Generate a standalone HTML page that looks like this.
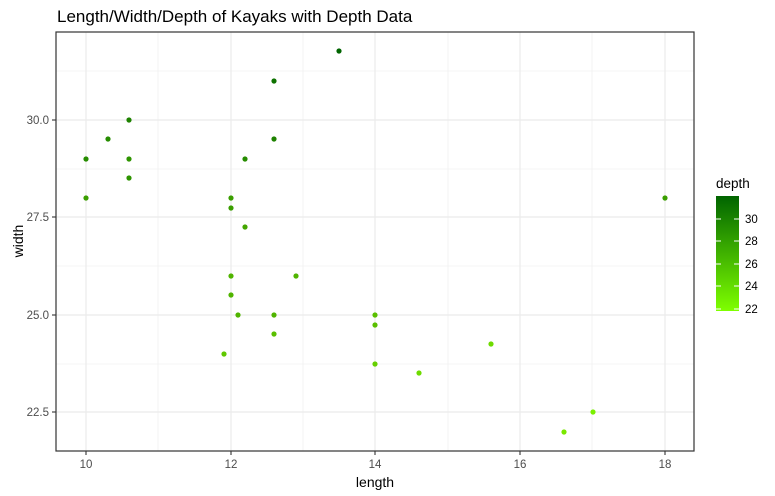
<!DOCTYPE html>
<html><head><style>body{margin:0;background:#fff}svg{display:block;font-family:"Liberation Sans",sans-serif}</style></head>
<body>
<svg width="775" height="496" viewBox="0 0 775 496">
<rect width="775" height="496" fill="#fff"/>
<text x="57" y="22" font-size="17" fill="#000">Length/Width/Depth of Kayaks with Depth Data</text>
<g stroke="#ebebeb" stroke-width="0.6">
<line x1="56" x2="694" y1="71" y2="71"/><line x1="56" x2="694" y1="169" y2="169"/><line x1="56" x2="694" y1="266" y2="266"/><line x1="56" x2="694" y1="364" y2="364"/>
<line y1="32" y2="451" x1="158" x2="158"/><line y1="32" y2="451" x1="303" x2="303"/><line y1="32" y2="451" x1="448" x2="448"/><line y1="32" y2="451" x1="592" x2="592"/>
</g>
<g stroke="#ebebeb" stroke-width="1.2">
<line x1="56" x2="694" y1="120" y2="120"/><line x1="56" x2="694" y1="217" y2="217"/><line x1="56" x2="694" y1="315" y2="315"/><line x1="56" x2="694" y1="412" y2="412"/>
<line y1="32" y2="451" x1="86" x2="86"/><line y1="32" y2="451" x1="231" x2="231"/><line y1="32" y2="451" x1="375" x2="375"/><line y1="32" y2="451" x1="520" x2="520"/><line y1="32" y2="451" x1="665" x2="665"/>
</g>
<rect x="56" y="32" width="638" height="419" fill="none" stroke="#333" stroke-width="1.2"/>
<g stroke="#333" stroke-width="1.1">
<line x1="52" x2="56" y1="120" y2="120"/><line x1="52" x2="56" y1="217" y2="217"/><line x1="52" x2="56" y1="315" y2="315"/><line x1="52" x2="56" y1="412" y2="412"/>
<line y1="451" y2="455" x1="86" x2="86"/><line y1="451" y2="455" x1="231" x2="231"/><line y1="451" y2="455" x1="375" x2="375"/><line y1="451" y2="455" x1="520" x2="520"/><line y1="451" y2="455" x1="665" x2="665"/>
</g>
<g font-size="11.5" fill="#4d4d4d" text-anchor="end">
<text x="49" y="124">30.0</text><text x="49" y="221">27.5</text><text x="49" y="319">25.0</text><text x="49" y="416">22.5</text>
</g>
<g font-size="11.5" fill="#4d4d4d" text-anchor="middle">
<text x="86" y="468">10</text><text x="231" y="468">12</text><text x="375" y="468">14</text><text x="520" y="468">16</text><text x="665" y="468">18</text>
</g>
<text x="375" y="487" font-size="14" text-anchor="middle">length</text>
<text transform="translate(23,241) rotate(-90)" font-size="14" text-anchor="middle">width</text>
<g>
<circle cx="86" cy="159" r="2.6" fill="#268c00"/>
<circle cx="86" cy="198" r="2.6" fill="#3a9e00"/>
<circle cx="108" cy="139" r="2.6" fill="#268c00"/>
<circle cx="129" cy="120" r="2.6" fill="#1e8200"/>
<circle cx="129" cy="159" r="2.6" fill="#2e9400"/>
<circle cx="129" cy="178" r="2.6" fill="#2e9400"/>
<circle cx="231" cy="198" r="2.6" fill="#3a9e00"/>
<circle cx="231" cy="208" r="2.6" fill="#3a9e00"/>
<circle cx="245" cy="159" r="2.6" fill="#268c00"/>
<circle cx="245" cy="227" r="2.6" fill="#44a600"/>
<circle cx="274" cy="81" r="2.6" fill="#0e7200"/>
<circle cx="274" cy="139" r="2.6" fill="#1e8200"/>
<circle cx="339" cy="51" r="2.6" fill="#006400"/>
<circle cx="231" cy="276" r="2.6" fill="#50b400"/>
<circle cx="231" cy="295" r="2.6" fill="#50b400"/>
<circle cx="238" cy="315" r="2.6" fill="#50b400"/>
<circle cx="224" cy="354" r="2.6" fill="#60c800"/>
<circle cx="274" cy="315" r="2.6" fill="#50b400"/>
<circle cx="274" cy="334" r="2.6" fill="#5abf00"/>
<circle cx="296" cy="276" r="2.6" fill="#50b400"/>
<circle cx="375" cy="315" r="2.6" fill="#5abf00"/>
<circle cx="375" cy="325" r="2.6" fill="#5abf00"/>
<circle cx="375" cy="364" r="2.6" fill="#66d000"/>
<circle cx="419" cy="373" r="2.6" fill="#6edb00"/>
<circle cx="491" cy="344" r="2.6" fill="#6edb00"/>
<circle cx="564" cy="432" r="2.6" fill="#7ae800"/>
<circle cx="593" cy="412" r="2.6" fill="#7af000"/>
<circle cx="665" cy="198" r="2.6" fill="#3a9e00"/>
</g>
<text x="716" y="188" font-size="13.5">depth</text>
<defs><linearGradient id="g" x1="0" y1="0" x2="0" y2="1"><stop offset="0" stop-color="#006400"/><stop offset="1" stop-color="#7fff00"/></linearGradient></defs>
<rect x="716" y="196" width="23" height="115" fill="url(#g)"/>
<g stroke="#fff" stroke-width="1">
<line x1="716" x2="721" y1="219" y2="219"/><line x1="734" x2="739" y1="219" y2="219"/>
<line x1="716" x2="721" y1="241" y2="241"/><line x1="734" x2="739" y1="241" y2="241"/>
<line x1="716" x2="721" y1="264" y2="264"/><line x1="734" x2="739" y1="264" y2="264"/>
<line x1="716" x2="721" y1="286" y2="286"/><line x1="734" x2="739" y1="286" y2="286"/>
<line x1="716" x2="721" y1="309" y2="309"/><line x1="734" x2="739" y1="309" y2="309"/>
</g>
<g font-size="11.5" fill="#000">
<text x="745" y="223">30</text><text x="745" y="245">28</text><text x="745" y="268">26</text><text x="745" y="290">24</text><text x="745" y="313">22</text>
</g>
</svg>
</body></html>
